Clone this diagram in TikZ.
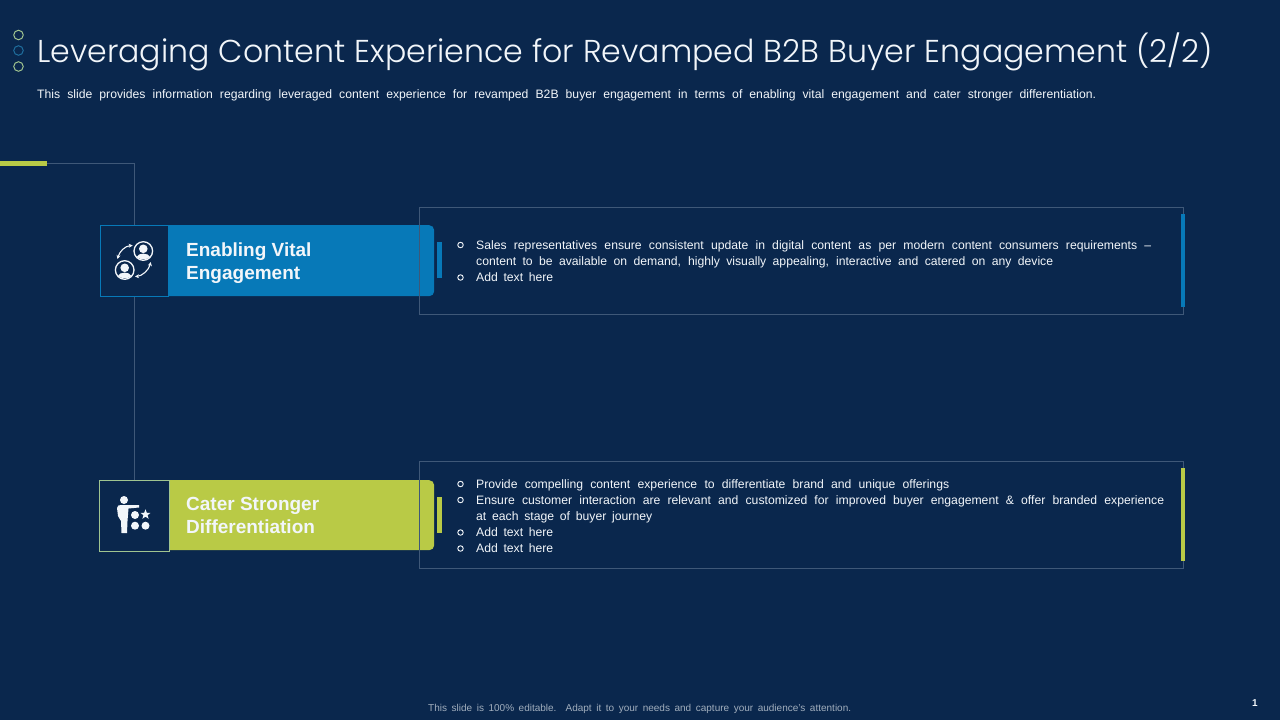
\documentclass[tikz,border=0pt]{standalone}
\usepackage{fontspec}
\setmainfont{Liberation Sans}
\newfontfamily\titlefont{Poppins Light}
\usetikzlibrary{positioning}
\usetikzlibrary{shapes.geometric}
\usetikzlibrary{arrows.meta}
\definecolor{slidebg}{HTML}{0A274D}
\definecolor{boxblue}{HTML}{0779B8}
\definecolor{boxgreen}{HTML}{B9CA46}
\definecolor{edgeline}{HTML}{3F5878}
\definecolor{ringgreen}{HTML}{A0C490}
\definecolor{ringblue}{HTML}{1F6E9E}
\definecolor{txt}{HTML}{F2F6FA}
\tikzset{
    headbox/.style={fill=#1, rounded corners=5, minimum height=71
        , anchor=north west, inner sep=0},
    iconbox/.style={draw=#1, fill=slidebg, line width=0.8, minimum height=71
        , anchor=north west, inner sep=0},
    headtxt/.style={text=txt, font=\fontsize{19}{23}\selectfont\bfseries, align=left
        , anchor=west, inner sep=0},
    panel/.style={draw=edgeline, line width=0.8, minimum width=763.7, minimum height=106.8
        , anchor=north west, inner sep=0},
    bodyline/.style={text=txt, font=\fontsize{12.2}{15}\selectfont, anchor=base west, inner sep=0},
    bulletmark/.style={circle, draw=txt, line width=0.9, minimum size=5.5, inner sep=0},
    ringdot/.style={circle, draw=#1, line width=1, minimum size=9.5, inner sep=0},
    tick/.style={fill=#1, inner sep=0, anchor=north west},
    swaparrow/.style={line width=1.1, {Stealth[length=4, width=4]}-{Stealth[length=4, width=4]}},
}
\newcommand{\bodytext}[2]{\makebox[#1pt][s]{#2}}
\begin{document}
\begin{tikzpicture}[x=1pt, y=-1pt
    , every node/.style={}
    ]
    \useasboundingbox[fill=slidebg] (0,0) rectangle (1280,720);

    %% Header
    \node[ringdot=ringgreen] (dota) at (18.5,35) {};
    \node[ringdot=ringblue] (dotb) at (18.5,50.5) {};
    \node[ringdot=ringgreen] (dotc) at (18.5,66.5) {};
    \node[text=txt, anchor=base west, inner sep=0, font=\fontsize{31.6}{38}\titlefont] (title) at (37,62)
        {\makebox[1176pt][s]{Leveraging Content Experience for Revamped B2B Buyer Engagement (2/2)}};
    \node[bodyline] (subtitle) at (37,98)
        {\bodytext{1059}{This slide provides  information regarding leveraged content experience for revamped B2B buyer engagement in terms of enabling vital engagement and cater stronger differentiation.}};

    %% Top accent
    \node[tick=boxgreen, minimum width=47, minimum height=5] (accent) at (0,161) {};

    %% First row
    \node[headbox=boxblue, minimum width=274] (heada) at (160,225) {};
    \node[iconbox=boxblue, minimum width=68] (icona) at (100,225) {};
    \node[headtxt] (labela) at (186,263) {Enabling Vital\\Engagement};
    \node[tick=boxblue, minimum width=5, minimum height=36] (barleft) at (437,242) {};
    \node[panel] (panela) at (419,207) {};
    \node[tick=boxblue, minimum width=4, minimum height=93] (barright) at (1180.5,214) {};

    %% Second row
    \node[headbox=boxgreen, minimum height=70, minimum width=273] (headb) at (161,480) {};
    \node[iconbox=ringgreen, minimum width=70] (iconb) at (99,479.5) {};
    \node[headtxt] (labelb) at (186,515) {Cater Stronger\\Differentiation};
    \node[tick=boxgreen, minimum width=5, minimum height=36] (barleftb) at (437,497) {};
    \node[panel] (panelb) at (419,461) {};
    \node[tick=boxgreen, minimum width=4, minimum height=93] (barrightb) at (1180.5,468) {};

    %% Connectors
    \draw[edgeline, line width=0.8] (accent.east) -| (icona.north);
    \draw[edgeline, line width=0.8] (icona.south) -- (iconb.north -| icona.south);

    %% First list
    \node[bulletmark] (ba) at (460.5,245) {};
    \node[bodyline] (ta) at (476,249)
        {\bodytext{675}{Sales representatives  ensure consistent update in digital content as per modern content consumers requirements –}};
    \node[bodyline] (tb) at (476,265)
        {\bodytext{577}{content to be available  on demand, highly visually appealing, interactive and catered on any device}};
    \node[bulletmark] (bb) at (460.5,277.5) {};
    \node[bodyline] (tc) at (476,281) {\bodytext{77}{Add text here}};

    %% Second list
    \node[bulletmark] (bc) at (460.5,484) {};
    \node[bodyline] (td) at (476,488)
        {\bodytext{473}{Provide compelling content experience to differentiate  brand and unique offerings}};
    \node[bulletmark] (bd) at (460.5,500) {};
    \node[bodyline] (te) at (476,504)
        {\bodytext{688}{Ensure customer interaction are relevant and customized for improved buyer engagement \& offer branded experience}};
    \node[bodyline] (tf) at (476,520) {\bodytext{176}{at each stage of buyer journey}};
    \node[bulletmark] (be) at (460.5,532.5) {};
    \node[bodyline] (tg) at (476,536) {\bodytext{77}{Add text here}};
    \node[bulletmark] (bf) at (460.5,548.5) {};
    \node[bodyline] (th) at (476,552) {\bodytext{77}{Add text here}};

    %% Icon of two people
    \begin{scope}[txt]
        \draw[line width=1.3] (143.3,251) circle (9.3);
        \fill (143.3,248.8) circle (4.3);
        \fill (136.6,257) .. controls (138,252.5) and (148.6,252.5) .. (150,257)
            .. controls (147,260) and (140,260) .. (136.6,257);
        \draw[line width=1.3] (124.7,270) circle (9.3);
        \fill (124.7,267.8) circle (4.3);
        \fill (118,276) .. controls (119.4,271.5) and (130,271.5) .. (131.4,276)
            .. controls (128.4,279) and (121.4,279) .. (118,276);
        \draw[swaparrow] (132.7,245.5) .. controls (125,246) and (119.5,251.5) .. (117.5,259);
        \draw[swaparrow] (135,276.5) .. controls (142,276) and (149,270) .. (150.7,262);

        %% Icon of a presenter
        \fill (124,500) circle (4);
        \fill (117,508) .. controls (117,505.5) and (119,505) .. (121,505) -- (139,505) -- (139,507.5)
            -- (128.5,508.5) -- (127.5,521) -- (127,533) -- (121.5,533) -- (121,521)
            -- (118,516) -- cycle;
        \fill (135,515) circle (4);
        \fill (135,525.7) circle (4);
        \fill (145.5,525.7) circle (4);
        \node[star, star points=5, star point ratio=2.4, fill=txt, minimum size=10.5, inner sep=0] (starmark) at (145.5,514.5) {};
    \end{scope}

    %% Footer
    \node[text=txt!65!slidebg, font=\fontsize{10}{12}\selectfont, anchor=base west, inner sep=0] (footer) at (428,711)
        {\bodytext{423}{This slide is 100\% editable.  Adapt it to your needs and capture your audience's attention.}};
    \node[text=txt, font=\fontsize{10}{12}\selectfont\bfseries, inner sep=0] (pagenum) at (1255,703) {1};
\end{tikzpicture}
\end{document}
